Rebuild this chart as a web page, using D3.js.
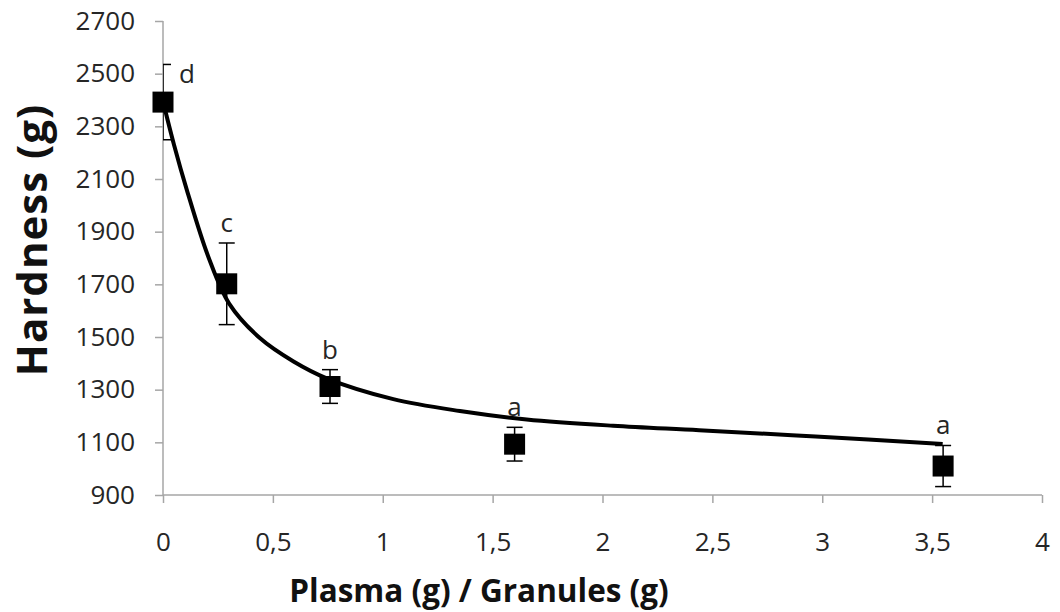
<!DOCTYPE html>
<html lang="en">
<head>
<meta charset="utf-8">
<title>Hardness vs Plasma/Granules</title>
<script src="https://d3js.org/d3.v7.min.js"></script>
<style>
  body { margin: 0; background: #fff; }
  svg text { font-family: "Open Sans", sans-serif; }
</style>
</head>
<body>
<script>
// measured points
var ratio    = [0, 0.29, 0.76, 1.6, 3.55];
var hardness = [2392, 1702, 1312, 1093, 1010];
var sd       = [143, 155, 64, 64, 78];
var letters  = ["d", "c", "b", "a", "a"];

// fitted trend line
var fitX = [0, 0.05, 0.109, 0.207, 0.301, 0.442, 0.594, 0.745, 1.048, 1.351, 1.655, 2.048, 2.44, 2.97, 3.548];
var fitY = [2395, 2230, 2057, 1803, 1627, 1495, 1407, 1343, 1264, 1219, 1187, 1163, 1146, 1122, 1094];

var xTicks = [0, 0.5, 1, 1.5, 2, 2.5, 3, 3.5, 4];
var yTicks = [900, 1100, 1300, 1500, 1700, 1900, 2100, 2300, 2500, 2700];

var w = 1060, h = 612;
var margin = {top: 21, right: 18, bottom: 117, left: 163};

var svg = d3.select("body").append("svg")
    .attr("width", w)
    .attr("height", h);

var x = d3.scaleLinear().domain([0, 4]).range([margin.left, w - margin.right]);
var y = d3.scaleLinear().domain([900, 2700]).range([h - margin.bottom, margin.top]);

svg.append("clipPath").attr("id", "plot")
  .append("rect")
    .attr("x", margin.left).attr("y", margin.top)
    .attr("width", w - margin.left - margin.right)
    .attr("height", h - margin.top - margin.bottom);

// axes
var xAxis = d3.axisBottom(x).tickValues(xTicks).tickSize(8).tickPadding(30)
    .tickFormat(function(d) { return String(d).replace(".", ","); });
var yAxis = d3.axisLeft(y).tickValues(yTicks).tickSize(8).tickPadding(20)
    .tickFormat(d3.format("d"));

var gx = svg.append("g")
    .attr("transform", "translate(0," + y(900) + ")")
    .call(xAxis);
var gy = svg.append("g")
    .attr("transform", "translate(" + x(0) + ",0)")
    .call(yAxis);

[gx, gy].forEach(function(g) {
  g.selectAll("path, line").attr("stroke", "#a6a6a6").attr("stroke-width", 1.5);
  g.selectAll("text").attr("font-size", 26).attr("fill", "#262626")
    .attr("font-family", "'Open Sans', sans-serif");
});
gx.select(".domain").attr("d", "M" + x(0) + ",0H" + x(4));
gy.select(".domain").attr("d", "M0," + y(900) + "V" + y(2700));

// axis titles
svg.append("text")
    .attr("x", 479).attr("y", 602)
    .attr("text-anchor", "middle")
    .attr("font-size", 31.5).attr("font-weight", "bold").attr("fill", "#111")
    .text("Plasma (g) / Granules (g)");

svg.append("text")
    .attr("transform", "translate(47,240) rotate(-90)")
    .attr("text-anchor", "middle")
    .attr("font-size", 42).attr("font-weight", "bold").attr("fill", "#111")
    .attr("letter-spacing", 1)
    .text("Hardness (g)");

var plot = svg.append("g").attr("clip-path", "url(#plot)");

// trend line
var fit = fitX.map(function(d, i) { return [d, fitY[i]]; });
plot.append("path")
    .datum(fit)
    .attr("fill", "none")
    .attr("stroke", "#000")
    .attr("stroke-width", 4)
    .attr("d", d3.line()
        .x(function(d) { return x(d[0]); })
        .y(function(d) { return y(d[1]); })
        .curve(d3.curveCatmullRom.alpha(0.5)));

var pts = ratio.map(function(d, i) {
  return {x: d, y: hardness[i], e: sd[i], lab: letters[i]};
});

// error bars
var eb = plot.selectAll(".err").data(pts).enter().append("g")
    .attr("stroke", "#000").attr("stroke-width", 1.5);
eb.append("line")
    .attr("x1", function(d) { return x(d.x); })
    .attr("x2", function(d) { return x(d.x); })
    .attr("y1", function(d) { return y(d.y + d.e); })
    .attr("y2", function(d) { return y(d.y - d.e); });
eb.append("line")
    .attr("x1", function(d) { return x(d.x) - 8; })
    .attr("x2", function(d) { return x(d.x) + 8; })
    .attr("y1", function(d) { return y(d.y + d.e); })
    .attr("y2", function(d) { return y(d.y + d.e); });
eb.append("line")
    .attr("x1", function(d) { return x(d.x) - 8; })
    .attr("x2", function(d) { return x(d.x) + 8; })
    .attr("y1", function(d) { return y(d.y - d.e); })
    .attr("y2", function(d) { return y(d.y - d.e); });

// markers
svg.selectAll(".pt").data(pts).enter().append("rect")
    .attr("x", function(d) { return x(d.x) - 10.5; })
    .attr("y", function(d) { return y(d.y) - 10.5; })
    .attr("width", 21).attr("height", 21)
    .attr("fill", "#000");

// significance letters
svg.selectAll(".lab").data(pts).enter().append("text")
    .attr("x", function(d, i) { return x(d.x) + (i === 0 ? 24 : 0); })
    .attr("y", function(d, i) { return y(d.y + d.e) + (i === 0 ? 19 : -11); })
    .attr("text-anchor", "middle")
    .attr("font-size", 26).attr("fill", "#262626")
    .text(function(d) { return d.lab; });
</script>
</body>
</html>
